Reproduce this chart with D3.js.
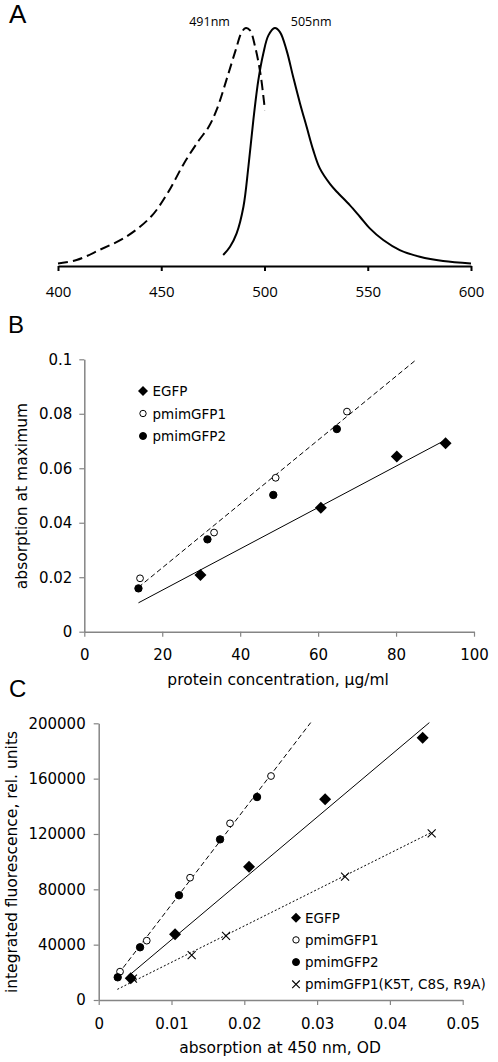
<!DOCTYPE html>
<html><head><meta charset="utf-8">
<script src="https://cdn.jsdelivr.net/npm/d3@7"></script>
<style>body{margin:0;background:#fff}</style>
</head><body>
<svg id="c" width="498" height="1062"></svg>
<script>
// ---------- Panel A data (normalised spectra) ----------
const exWl  = [400, 409, 420, 433, 445, 453, 461, 468, 473, 477, 482, 486, 489, 491, 493, 495.5, 498, 499.5, 500.2];
const exVal = [0.011, 0.025, 0.067, 0.123, 0.207, 0.305, 0.431, 0.525, 0.585, 0.66, 0.794, 0.906, 0.983, 1.0, 0.99, 0.92, 0.81, 0.71, 0.655];
const emWl  = [480, 483.3, 486.5, 489.8, 492.2, 494.6, 497, 499.4, 501.9, 505, 507.5, 510.7, 513.9, 517.2, 520.4, 523.6, 526.8, 531.7, 535, 541.3, 546.2, 551, 557.5, 565.5, 575.2, 586.5, 600];
const emVal = [0.046, 0.081, 0.137, 0.249, 0.417, 0.613, 0.780, 0.892, 0.969, 1.0, 0.983, 0.906, 0.794, 0.683, 0.585, 0.487, 0.41, 0.345, 0.312, 0.256, 0.207, 0.158, 0.109, 0.067, 0.039, 0.021, 0.011];
const aTicks = [400, 450, 500, 550, 600];
const peakLabels = ["491nm", "505nm"];
const peakWl = [491, 505];

// ---------- Panel B data ----------
const bSeries = ["EGFP", "pmimGFP1", "pmimGFP2"];
const bEgfpX = [29.8, 60.7, 80.2, 92.7];
const bEgfpY = [0.0208, 0.0455, 0.0643, 0.0692];
const bP1X = [14.3, 33.3, 49.1, 67.4];
const bP1Y = [0.0196, 0.0364, 0.0565, 0.0808];
const bP2X = [13.9, 31.6, 48.5, 64.8];
const bP2Y = [0.0159, 0.0339, 0.0502, 0.0744];
const bSolidX = [13.9, 92.7], bSolidY = [0.0106, 0.0704];
const bDashX = [13.9, 85.3],  bDashY = [0.0163, 0.1];
const bXTicks = [0, 20, 40, 60, 80, 100];
const bYTicks = [0, 0.02, 0.04, 0.06, 0.08, 0.1];

// ---------- Panel C data ----------
const cSeries = ["EGFP", "pmimGFP1", "pmimGFP2", "pmimGFP1(K5T, C8S, R9A)"];
const cEgfpX = [0.0044, 0.01049, 0.02065, 0.0311, 0.0445];
const cEgfpY = [15700, 47500, 96400, 145100, 189600];
const cP1X = [0.00293, 0.0066, 0.01255, 0.01804, 0.02367];
const cP1Y = [20500, 42900, 88400, 127700, 161900];
const cP2X = [0.00261, 0.00568, 0.01103, 0.01667, 0.02175];
const cP2Y = [16400, 38100, 75700, 116100, 146700];
const cMutX = [0.0047, 0.01277, 0.01749, 0.03384, 0.04574];
const cMutY = [15500, 32500, 46300, 89200, 120500];
const cDashX = [0.0027, 0.02912],  cDashY = [18800, 200500];
const cSolidX = [0.00408, 0.04542], cSolidY = [17350, 200500];
const cDotX = [0.00256, 0.04574], cDotY = [7700, 121200];
const cXTicks = [0, 0.01, 0.02, 0.03, 0.04, 0.05];
const cYTicks = [0, 40000, 80000, 120000, 160000, 200000];

const svg = d3.select("#c");
const SANS = "DejaVu Sans, Verdana, sans-serif";
const AXIS_GRAY = "#858585";

function letter(t, x, y, size) {
  svg.append("text").attr("x", x).attr("y", y).text(t)
    .attr("font-family", "Liberation Sans, Arial, sans-serif").attr("font-size", size).attr("fill", "#000");
}

// ================= Panel A =================
letter("A", 9, 23, 26);
const xA = d3.scaleLinear().domain([400, 600]).range([58, 471]);
const yA = d3.scaleLinear().domain([0, 1]).range([266, 28]);
const gA = svg.append("g");
const lineA = d3.line().x(d => xA(d[0])).y(d => yA(d[1])).curve(d3.curveCatmullRom.alpha(0.5));
gA.append("path").datum(d3.zip(exWl, exVal)).attr("d", lineA)
  .attr("fill", "none").attr("stroke", "#000").attr("stroke-width", 2).attr("stroke-dasharray", "10,5");
gA.append("path").datum(d3.zip(emWl, emVal)).attr("d", lineA)
  .attr("fill", "none").attr("stroke", "#000").attr("stroke-width", 2);
const axA = gA.append("g").attr("transform", `translate(0,${yA(0)})`)
  .call(d3.axisBottom(xA).tickValues(aTicks).tickSize(5).tickPadding(15).tickSizeOuter(0).tickFormat(d3.format("d")));
axA.select(".domain").attr("stroke", "#000").attr("stroke-width", 2);
axA.selectAll(".tick line").attr("stroke", "#000").attr("stroke-width", 2);
axA.selectAll("text").attr("font-family", "Open Sans, sans-serif").attr("font-size", 15).attr("fill", "#000");
peakLabels.forEach((t, i) => {
  gA.append("text").attr("x", xA(peakWl[i]) + (i === 0 ? -16 : 16)).attr("y", 26)
    .attr("text-anchor", i === 0 ? "end" : "start").text(t)
    .attr("font-family", "Open Sans, sans-serif").attr("font-size", 12.5).attr("fill", "#000");
});

// ---------- helpers for B/C ----------
function styleAxis(g) {
  g.select(".domain").attr("stroke", AXIS_GRAY).attr("stroke-width", 1.5);
  g.selectAll(".tick line").attr("stroke", AXIS_GRAY).attr("stroke-width", 1.2);
  g.selectAll("text").attr("font-family", SANS).attr("font-size", 15).attr("fill", "#000");
}
function diamond(g, x, y, diag) {
  const s = diag / Math.SQRT2;
  g.append("rect").attr("x", -s / 2).attr("y", -s / 2).attr("width", s).attr("height", s)
    .attr("transform", `translate(${x},${y}) rotate(45)`).attr("fill", "#000");
}
function circle(g, x, y, r, filled) {
  g.append("circle").attr("cx", x).attr("cy", y).attr("r", r)
    .attr("fill", filled ? "#000" : "#fff").attr("stroke", "#000").attr("stroke-width", 1);
}
function cross(g, x, y, h) {
  g.append("path").attr("d", `M${x - h},${y - h}L${x + h},${y + h}M${x - h},${y + h}L${x + h},${y - h}`)
    .attr("stroke", "#000").attr("stroke-width", 1.1).attr("fill", "none");
}
function seg(g, xs, ys, sx, sy, dash) {
  g.append("line").attr("x1", sx(xs[0])).attr("y1", sy(ys[0])).attr("x2", sx(xs[1])).attr("y2", sy(ys[1]))
    .attr("stroke", "#000").attr("stroke-width", 1).attr("stroke-dasharray", dash);
}
function fmtB(d) { return d === 0 ? "0" : String(d); }

// ================= Panel B =================
letter("B", 8, 333, 24);
const xB = d3.scaleLinear().domain([0, 100]).range([84.3, 474]);
const yB = d3.scaleLinear().domain([0, 0.1]).range([631.7, 359.3]);
const gB = svg.append("g");
const axBx = gB.append("g").attr("transform", `translate(0,${yB(0)})`)
  .call(d3.axisBottom(xB).tickValues(bXTicks).tickSize(5).tickPadding(13).tickSizeOuter(0).tickFormat(d3.format("d")));
styleAxis(axBx);
const axBy = gB.append("g").attr("transform", `translate(${xB(0)},0)`)
  .call(d3.axisLeft(yB).tickValues(bYTicks).tickSize(5).tickPadding(7).tickSizeOuter(0).tickFormat(fmtB));
styleAxis(axBy);
seg(gB, bSolidX, bSolidY, xB, yB, null);
seg(gB, bDashX, bDashY, xB, yB, "5,3");
bEgfpX.forEach((v, i) => diamond(gB, xB(v), yB(bEgfpY[i]), 12));
bP1X.forEach((v, i) => circle(gB, xB(v), yB(bP1Y[i]), 3.4, false));
bP2X.forEach((v, i) => circle(gB, xB(v), yB(bP2Y[i]), 3.7, true));
gB.append("text").attr("x", (xB(0) + xB(100)) / 2 - 1).attr("y", 685).attr("text-anchor", "middle")
  .text("protein concentration, µg/ml").attr("font-family", SANS).attr("font-size", 15.5).attr("fill", "#000");
gB.append("text").attr("transform", "translate(22,496) rotate(-90)").attr("text-anchor", "middle")
  .attr("dominant-baseline", "central").text("absorption at maximum")
  .attr("font-family", SANS).attr("font-size", 15.5).attr("fill", "#000");
// legend B
const legB = gB.append("g");
bSeries.forEach((s, i) => {
  const y = 391 + i * 22.5;
  if (i === 0) diamond(legB, 143, y, 10);
  else circle(legB, 143, y, i === 1 ? 3.2 : 3.5, i === 2);
  legB.append("text").attr("x", 152.5).attr("y", y).attr("dominant-baseline", "central").text(s)
    .attr("font-family", SANS).attr("font-size", 13.5).attr("fill", "#000");
});

// ================= Panel C =================
letter("C", 9, 697, 24);
const xC = d3.scaleLinear().domain([0, 0.05]).range([98.7, 462.7]);
const yC = d3.scaleLinear().domain([0, 200000]).range([1000, 723.3]);
const gC = svg.append("g");
const axCx = gC.append("g").attr("transform", `translate(0,${yC(0)})`)
  .call(d3.axisBottom(xC).tickValues(cXTicks).tickSize(5).tickPadding(13).tickSizeOuter(0).tickFormat(fmtB));
styleAxis(axCx);
const axCy = gC.append("g").attr("transform", `translate(${xC(0)},0)`)
  .call(d3.axisLeft(yC).tickValues(cYTicks).tickSize(5).tickPadding(8).tickSizeOuter(0).tickFormat(d3.format("d")));
styleAxis(axCy);
seg(gC, cDashX, cDashY, xC, yC, "5,3");
seg(gC, cSolidX, cSolidY, xC, yC, null);
seg(gC, cDotX, cDotY, xC, yC, "2,2");
cMutX.forEach((v, i) => cross(gC, xC(v), yC(cMutY[i]), 4));
cEgfpX.forEach((v, i) => diamond(gC, xC(v), yC(cEgfpY[i]), 12));
cP1X.forEach((v, i) => circle(gC, xC(v), yC(cP1Y[i]), 3.4, false));
cP2X.forEach((v, i) => circle(gC, xC(v), yC(cP2Y[i]), 3.7, true));
gC.append("text").attr("x", 280).attr("y", 1053).attr("text-anchor", "middle")
  .text("absorption at 450 nm, OD").attr("font-family", SANS).attr("font-size", 15.5).attr("fill", "#000");
gC.append("text").attr("transform", "translate(12,862) rotate(-90)").attr("text-anchor", "middle")
  .attr("dominant-baseline", "central").text("integrated fluorescence, rel. units")
  .attr("font-family", SANS).attr("font-size", 15.5).attr("fill", "#000");
const legC = gC.append("g");
cSeries.forEach((s, i) => {
  const y = 917.7 + i * 22.2;
  if (i === 0) diamond(legC, 296, y, 10);
  else if (i === 3) cross(legC, 296, y, 3.8);
  else circle(legC, 296, y, i === 1 ? 3.2 : 3.5, i === 2);
  legC.append("text").attr("x", 305).attr("y", y).attr("dominant-baseline", "central").text(s)
    .attr("font-family", SANS).attr("font-size", 13.5).attr("fill", "#000");
});
</script>
</body></html>
